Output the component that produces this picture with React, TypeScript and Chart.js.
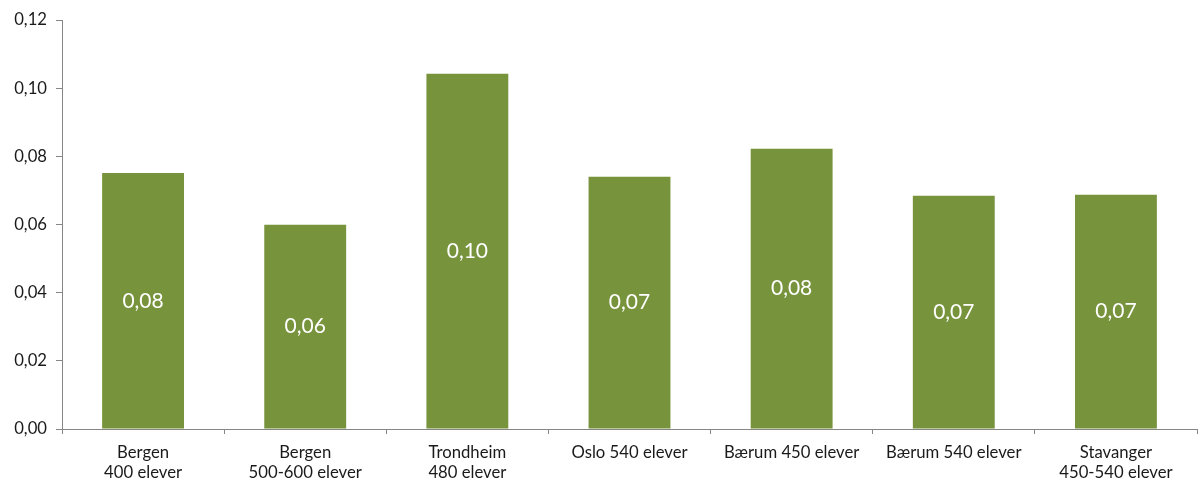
import React, { useEffect, useRef } from "react";
import { Chart, registerables } from "chart.js";

Chart.register(...registerables);

const categories: string[][] = [
  ["Bergen", "400 elever"],
  ["Bergen", "500-600 elever"],
  ["Trondheim", "480 elever"],
  ["Oslo 540 elever"],
  ["Bærum 450 elever"],
  ["Bærum 540 elever"],
  ["Stavanger", "450-540 elever"],
];
const values: number[] = [0.0751, 0.0599, 0.1042, 0.0740, 0.0822, 0.0684, 0.0687];
const yTicks: number[] = [0, 0.02, 0.04, 0.06, 0.08, 0.1, 0.12];

const FONT = "Lato, 'Open Sans', sans-serif";
const fmt = (v: number) => v.toFixed(2).replace(".", ",");

const labelPlugin = {
  id: "barLabels",
  afterDatasetsDraw(chart: any) {
    const { ctx } = chart;
    const meta = chart.getDatasetMeta(0);
    ctx.save();
    ctx.fillStyle = "#ffffff";
    ctx.font = `21px ${FONT}`;
    ctx.textAlign = "center";
    ctx.textBaseline = "middle";
    meta.data.forEach((bar: any, i: number) => {
      const y = (bar.y + bar.base) / 2;
      ctx.fillText(fmt(values[i]), bar.x, y);
    });
    ctx.restore();
  },
};

export default function App() {
  const ref = useRef<HTMLCanvasElement>(null);
  useEffect(() => {
    const chart = new Chart(ref.current!, {
      type: "bar",
      data: {
        labels: categories,
        datasets: [
          {
            data: values,
            backgroundColor: "#77933C",
            barPercentage: 0.505,
            categoryPercentage: 1,
          },
        ],
      },
      options: {
        animation: false,
        responsive: false,
        layout: { padding: { top: 20, right: 2, left: 0, bottom: 0 } },
        plugins: { legend: { display: false }, tooltip: { enabled: false } },
        scales: {
          x: {
            offset: true,
            border: { color: "#868686", width: 1 },
            grid: {
              offset: true,
              drawOnChartArea: false,
              drawTicks: true,
              tickLength: 5,
              color: "#868686",
            },
            ticks: {
              color: "#1a1a1a",
              font: { family: FONT, size: 16.7, lineHeight: 1.2 },
              padding: 9,
              maxRotation: 0,
              autoSkip: false,
            },
            afterFit(scale: any) {
              scale.height = 53;
            },
          },
          y: {
            min: 0,
            max: 0.12,
            afterBuildTicks(scale: any) {
              scale.ticks = yTicks.map((v) => ({ value: v }));
            },
            border: { color: "#868686", width: 1 },
            grid: {
              drawOnChartArea: false,
              drawTicks: true,
              tickLength: 6,
              color: "#868686",
            },
            ticks: {
              color: "#1a1a1a",
              font: { family: FONT, size: 16.7 },
              padding: 9,
              callback: (v: any) => fmt(Number(v)),
            },
            afterFit(scale: any) {
              scale.width = 62;
            },
          },
        },
      },
      plugins: [labelPlugin],
    });
    return () => chart.destroy();
  }, []);
  return (
    <div style={{ position: "fixed", left: 0, top: 0, width: 1199, height: 482, background: "#fff" }}>
      <canvas ref={ref} width={1199} height={482} />
    </div>
  );
}
